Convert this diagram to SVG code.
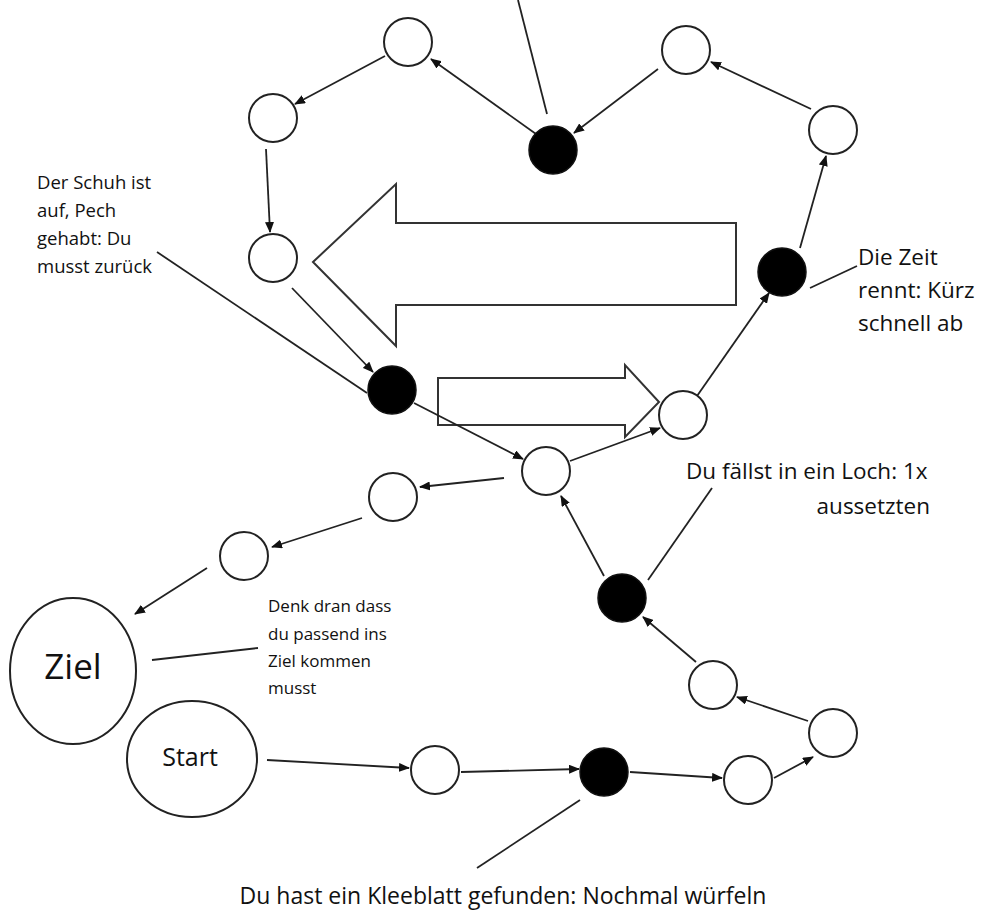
<svg xmlns="http://www.w3.org/2000/svg" width="984" height="913" viewBox="0 0 984 913">
<style>
.n{fill:#fff;stroke:#222;stroke-width:2}
.b{fill:#000;stroke:#111;stroke-width:1.5}
.e{stroke:#222;stroke-width:1.8;fill:none;marker-end:url(#ah)}
.l{stroke:#222;stroke-width:1.8;fill:none}
.big{fill:#fff;stroke:#333;stroke-width:2}
.t{font-family:"Open Sans","Liberation Sans",sans-serif;fill:#111}
</style>
<defs>
<marker id="ah" markerUnits="userSpaceOnUse" markerWidth="11" markerHeight="9" refX="10" refY="4.5" orient="auto">
<path d="M0,0 L11,4.5 L0,9 z" fill="#111"/>
</marker>
</defs>
<rect width="984" height="913" fill="#fff"/>
<g id="bigarrows">
<polygon class="big" points="313,262 396,184 396,223 736,223 736,305 396,305 396,346"/>
<polygon class="big" points="438,378 625,378 625,365 659,402 625,437 625,425 438,425"/>
</g>
<g id="connectors">
<line class="e" x1="536" y1="134" x2="431" y2="59"/>
<line class="e" x1="385" y1="56" x2="295" y2="104"/>
<line class="e" x1="266" y1="149" x2="270" y2="232"/>
<line class="e" x1="292" y1="288" x2="373" y2="372"/>
<line class="e" x1="414" y1="403" x2="523" y2="459"/>
<line class="e" x1="570" y1="461" x2="660" y2="428"/>
<line class="e" x1="697" y1="396" x2="769" y2="293"/>
<line class="e" x1="800" y1="248" x2="826" y2="156"/>
<line class="e" x1="811" y1="109" x2="711" y2="62"/>
<line class="e" x1="658" y1="69" x2="574" y2="133"/>
<line class="e" x1="504" y1="478" x2="420" y2="487"/>
<line class="e" x1="362" y1="518" x2="272" y2="547"/>
<line class="e" x1="207" y1="568" x2="135" y2="614"/>
<line class="e" x1="267" y1="760" x2="409" y2="768"/>
<line class="e" x1="461" y1="772" x2="579" y2="769"/>
<line class="e" x1="630" y1="772" x2="722" y2="778"/>
<line class="e" x1="774" y1="778" x2="813" y2="757"/>
<line class="e" x1="808" y1="721" x2="737" y2="697"/>
<line class="e" x1="696" y1="662" x2="643" y2="617"/>
<line class="e" x1="604" y1="576" x2="561" y2="496"/>
<line class="l" x1="518" y1="0" x2="547" y2="114"/>
<line class="l" x1="157" y1="252" x2="367" y2="393"/>
<line class="l" x1="810" y1="288" x2="857" y2="266"/>
<line class="l" x1="152" y1="660" x2="258" y2="648"/>
<line class="l" x1="580" y1="800" x2="477" y2="868"/>
<line class="l" x1="648" y1="580" x2="712" y2="488"/>
</g>
<g id="c1"><ellipse class="n" cx="408" cy="42" rx="24" ry="24"/></g>
<g id="c2"><ellipse class="n" cx="273" cy="118" rx="24" ry="24"/></g>
<g id="c3"><ellipse class="n" cx="273" cy="258" rx="24" ry="24"/></g>
<g id="b4"><ellipse class="b" cx="553" cy="150" rx="24" ry="24"/></g>
<g id="c5"><ellipse class="n" cx="686" cy="50" rx="24" ry="24"/></g>
<g id="c6"><ellipse class="n" cx="833" cy="130" rx="24" ry="24"/></g>
<g id="b7"><ellipse class="b" cx="782" cy="272" rx="24" ry="24"/></g>
<g id="b8"><ellipse class="b" cx="392" cy="390" rx="24" ry="24"/></g>
<g id="c9"><ellipse class="n" cx="683" cy="415" rx="24" ry="24"/></g>
<g id="c10"><ellipse class="n" cx="546" cy="471" rx="24" ry="24"/></g>
<g id="c11"><ellipse class="n" cx="393" cy="497" rx="24" ry="24"/></g>
<g id="c12"><ellipse class="n" cx="244" cy="556" rx="24" ry="24"/></g>
<g id="ziel"><ellipse class="n" cx="73" cy="671" rx="63" ry="73"/><text class="t" x="73" y="679" font-size="35" text-anchor="middle">Ziel</text></g>
<g id="start"><ellipse class="n" cx="192" cy="759" rx="65" ry="58"/><text class="t" x="190" y="766" font-size="25" text-anchor="middle">Start</text></g>
<g id="c15"><ellipse class="n" cx="435" cy="770" rx="24" ry="24"/></g>
<g id="b16"><ellipse class="b" cx="604" cy="772" rx="24" ry="24"/></g>
<g id="c17"><ellipse class="n" cx="748" cy="780" rx="24" ry="24"/></g>
<g id="c18"><ellipse class="n" cx="833" cy="733" rx="24" ry="24"/></g>
<g id="c19"><ellipse class="n" cx="713" cy="685" rx="24" ry="24"/></g>
<g id="b20"><ellipse class="b" cx="622" cy="598" rx="24" ry="24"/></g>
<g id="label-schuh" font-size="18.5">
<text class="t" x="37" y="189">Der Schuh ist</text>
<text class="t" x="37" y="217">auf, Pech</text>
<text class="t" x="37" y="245">gehabt: Du</text>
<text class="t" x="37" y="273">musst zurück</text>
</g>
<g id="label-zeit" font-size="22.5">
<text class="t" x="858" y="265">Die Zeit</text>
<text class="t" x="858" y="298">rennt: Kürz</text>
<text class="t" x="858" y="331">schnell ab</text>
</g>
<g id="label-loch" font-size="22.5">
<text class="t" x="686" y="479">Du fällst in ein Loch: 1x</text>
<text class="t" x="930" y="514" text-anchor="end">aussetzten</text>
</g>
<g id="label-denk" font-size="17">
<text class="t" x="268" y="612">Denk dran dass</text>
<text class="t" x="268" y="640">du passend ins</text>
<text class="t" x="268" y="667">Ziel kommen</text>
<text class="t" x="268" y="694">musst</text>
</g>
<g id="label-klee" font-size="23">
<text class="t" x="503" y="904" text-anchor="middle">Du hast ein Kleeblatt gefunden: Nochmal würfeln</text>
</g>
</svg>
